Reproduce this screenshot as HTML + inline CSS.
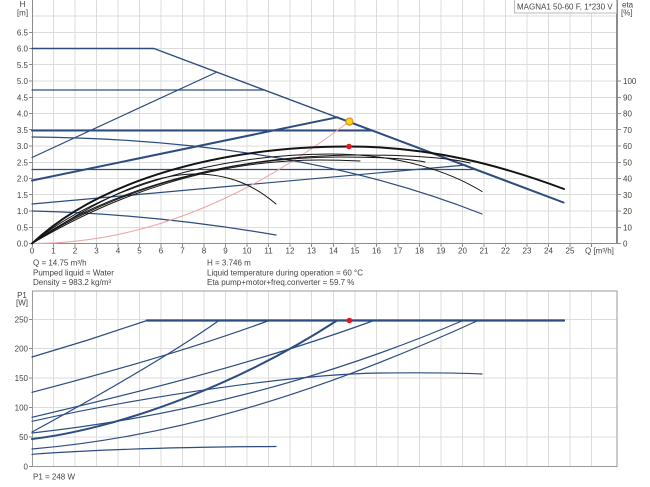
<!DOCTYPE html>
<html><head><meta charset="utf-8"><style>
html,body{margin:0;padding:0;background:#fff;}
svg{display:block;font-family:"Liberation Sans",Arial,sans-serif;}
.t{font-size:8px;fill:#444;}
.r{font-size:8px;fill:#3b4636;}
</style></head><body>
<svg width="650" height="487" viewBox="0 0 650 487" xmlns="http://www.w3.org/2000/svg">
<rect width="650" height="487" fill="#fff"/>
<g stroke="#dcdcdc" stroke-width="1" shape-rendering="crispEdges" fill="none">
<path d="M53.5,0V243.5M75,0V243.5M96.5,0V243.5M118,0V243.5M139.5,0V243.5M161,0V243.5M182.5,0V243.5M204,0V243.5M225.5,0V243.5M247,0V243.5M268.5,0V243.5M290,0V243.5M311.5,0V243.5M333.5,0V243.5M355,0V243.5M376.5,0V243.5M398,0V243.5M419.5,0V243.5M441,0V243.5M462.5,0V243.5M484,0V243.5M505.5,0V243.5M527,0V243.5M548.5,0V243.5M570,0V243.5M591.5,0V243.5"/>
<path d="M32,227.5H617M32,211H617M32,194.5H617M32,178.5H617M32,162.5H617M32,146H617M32,129.5H617M32,113.5H617M32,97.5H617M32,81H617M32,64.5H617M32,48.5H617M32,32.5H617M32,16H617"/>
<path d="M53.5,291V466.5M75,291V466.5M96.5,291V466.5M118,291V466.5M139.5,291V466.5M161,291V466.5M182.5,291V466.5M204,291V466.5M225.5,291V466.5M247,291V466.5M268.5,291V466.5M290,291V466.5M311.5,291V466.5M333.5,291V466.5M355,291V466.5M376.5,291V466.5M398,291V466.5M419.5,291V466.5M441,291V466.5M462.5,291V466.5M484,291V466.5M505.5,291V466.5M527,291V466.5M548.5,291V466.5M570,291V466.5M591.5,291V466.5"/>
<path d="M32,437H617M32,407.5H617M32,378H617M32,348.5H617M32,319.5H617"/>
</g>
<g stroke="#8c8c8c" fill="none" shape-rendering="crispEdges">
<path d="M32.5,0V244M32,243.5H617" stroke-width="1.2"/>
<path d="M617,0V244" stroke-width="2"/>
<path d="M29,227.5H32M29,211H32M29,194.5H32M29,178.5H32M29,162.5H32M29,146H32M29,129.5H32M29,113.5H32M29,97.5H32M29,81H32M29,64.5H32M29,48.5H32M29,32.5H32M29,243.5H32"/>
<path d="M32.5,243.5V247M53.5,243.5V247M75,243.5V247M96.5,243.5V247M118,243.5V247M139.5,243.5V247M161,243.5V247M182.5,243.5V247M204,243.5V247M225.5,243.5V247M247,243.5V247M268.5,243.5V247M290,243.5V247M311.5,243.5V247M333.5,243.5V247M355,243.5V247M376.5,243.5V247M398,243.5V247M419.5,243.5V247M441,243.5V247M462.5,243.5V247M484,243.5V247M505.5,243.5V247M527,243.5V247M548.5,243.5V247M570,243.5V247M591.5,243.5V247"/>
<path d="M617,243.5H621M617,227.5H621M617,211H621M617,194.5H621M617,178.5H621M617,162.5H621M617,146H621M617,129.5H621M617,113.5H621M617,97.5H621M617,81H621"/>
<rect x="32.5" y="291" width="584.5" height="175.5" stroke="#9a9a9a"/>
<path d="M29,466.5H32M29,437H32M29,407.5H32M29,378H32M29,348.5H32M29,319.5H32"/>
</g>
<g stroke="#2d4d80" fill="none" stroke-width="1.2" stroke-linejoin="round" stroke-linecap="round">
<path d="M32,48.5L154,48.5L563.5,202.5" stroke-width="1.4"/>
<path d="M337,117.3L563.5,202.5" stroke-width="2"/>
<path d="M32,90H264"/>
<path d="M32,130.5H371" stroke-width="2"/>
<path d="M32,169.5H475"/>
<path d="M32,157.5L217,72"/>
<path d="M32,180.5L337,117.3" stroke-width="2"/>
<path d="M32,204L466,165"/>
<path d="M32,137C150,138 320,150 482,214"/>
<path d="M32,211C120,213 200,222 276,235"/>
</g>
<path d="M32,243.5Q190.5,243.5 349,121.5" stroke="#eda7a7" stroke-width="1" fill="none"/>
<g stroke="#141414" fill="none" stroke-width="1" stroke-linecap="round">
<path d="M32,243.5C100,187 220,154 330,154C400,154 450,172 482,191.5"/>
<path d="M32,243.5C105,190 230,155 360,155C410,155 450,158 470,163"/>
<path d="M32,243.5C108,193 220,157 340,157C380,157 410,159 425,162"/>
<path d="M32,243.5C112,196 210,160 320,160C340,160 350,160.5 360,161"/>
<path d="M32,243.5C80,212 140,174 195,174C230,174 255,186 276,204"/>
<path stroke-width="2" d="M32,243.5C100,180 220,146.5 349,146.5C430,146.5 500,165 564,189"/>
</g>
<circle cx="349" cy="146.5" r="2.8" fill="#e8141c"/>
<circle cx="349.4" cy="121.6" r="3.6" fill="#ffd21f" stroke="#c88a00" stroke-width="1"/>
<g stroke="#2d4d80" fill="none" stroke-width="1.2" stroke-linejoin="round" stroke-linecap="round">
<polyline points="32,357 88,340 147,320.5"/>
<path d="M147,320.5H564" stroke-width="2.2"/>
<path d="M32,392.3C110,372 200,346 269,320.5"/>
<path d="M32,432C100,395 170,355 219,320.5"/>
<path d="M32,417.3C140,392 260,362 374,320.5"/>
<path d="M32,421.3C150,395 300,374 380,373C430,372.5 460,373 482,374"/>
<path d="M32,433C150,420 300,390 463,320.5"/>
<path d="M32,449C160,438 300,402 478,320.5"/>
<path d="M32,454.3C90,450 180,447 276,446.5"/>
<path stroke-width="2" d="M32,439C110,430 230,390 337,320.5"/>
</g>
<circle cx="349.4" cy="320.5" r="2.8" fill="#e8141c"/>
<rect x="514.5" y="-1" width="102" height="14" fill="#fff" stroke="#bbb"/>
<text class="t" x="517" y="9.5">MAGNA1 50-60 F, 1*230 V</text>
<text class="t" x="22.5" y="7" text-anchor="middle">H</text>
<text class="t" x="22.5" y="15.5" text-anchor="middle">[m]</text>
<text class="r" x="622" y="7.5">eta</text>
<text class="r" x="621" y="15.5">[%]</text>
<text class="t" x="585" y="253.5">Q [m³/h]</text>
<g class="t" text-anchor="end">
<text x="28" y="246.5">0.0</text><text x="28" y="230.3">0.5</text><text x="28" y="214">1.0</text><text x="28" y="197.8">1.5</text><text x="28" y="181.5">2.0</text><text x="28" y="165.3">2.5</text><text x="28" y="149">3.0</text><text x="28" y="132.8">3.5</text><text x="28" y="116.5">4.0</text><text x="28" y="100.3">4.5</text><text x="28" y="84">5.0</text><text x="28" y="67.8">5.5</text><text x="28" y="51.5">6.0</text><text x="28" y="35.3">6.5</text>
</g>
<g class="r">
<text x="623" y="246.5">0</text><text x="623" y="230.3">10</text><text x="623" y="214">20</text><text x="623" y="197.8">30</text><text x="623" y="181.5">40</text><text x="623" y="165.3">50</text><text x="623" y="149">60</text><text x="623" y="132.8">70</text><text x="623" y="116.5">80</text><text x="623" y="100.3">90</text><text x="623" y="84">100</text>
</g>
<g class="t" text-anchor="middle">
<text x="32" y="253.5">0</text><text x="53.5" y="253.5">1</text><text x="75" y="253.5">2</text><text x="96.5" y="253.5">3</text><text x="118" y="253.5">4</text><text x="139.5" y="253.5">5</text><text x="161" y="253.5">6</text><text x="182.5" y="253.5">7</text><text x="204" y="253.5">8</text><text x="225.5" y="253.5">9</text><text x="247" y="253.5">10</text><text x="268.5" y="253.5">11</text><text x="290" y="253.5">12</text><text x="311.5" y="253.5">13</text><text x="333.5" y="253.5">14</text><text x="355" y="253.5">15</text><text x="376.5" y="253.5">16</text><text x="398" y="253.5">17</text><text x="419.5" y="253.5">18</text><text x="441" y="253.5">19</text><text x="462.5" y="253.5">20</text><text x="484" y="253.5">21</text><text x="505.5" y="253.5">22</text><text x="527" y="253.5">23</text><text x="548.5" y="253.5">24</text><text x="570" y="253.5">25</text>
</g>
<g class="t">
<text x="33" y="265.5">Q = 14.75 m³/h</text>
<text x="33" y="275.5">Pumped liquid = Water</text>
<text x="33" y="285.2">Density = 983.2 kg/m³</text>
<text x="207" y="265.5">H = 3.746 m</text>
<text x="207" y="275.5">Liquid temperature during operation = 60 °C</text>
<text x="207" y="285.2">Eta pump+motor+freq.converter = 59.7 %</text>
</g>
<text class="t" x="22" y="298" text-anchor="middle">P1</text>
<text class="t" x="22" y="305.5" text-anchor="middle">[W]</text>
<g class="t" text-anchor="end">
<text x="28" y="469.3">0</text><text x="28" y="440">50</text><text x="28" y="410.5">100</text><text x="28" y="381">150</text><text x="28" y="351.5">200</text><text x="28" y="322.5">250</text>
</g>
<text class="t" x="33" y="479.5">P1 = 248 W</text>
</svg>
</body></html>
